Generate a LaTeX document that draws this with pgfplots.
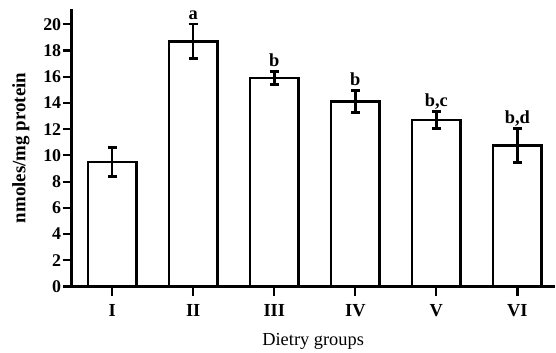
\documentclass[border=0pt]{standalone}
\usepackage{pgfplots}
\pgfplotsset{compat=1.18}
\usepackage{fontspec}
\setmainfont{Liberation Serif}
\begin{document}
\begin{tikzpicture}
\begin{axis}[
  scale only axis,
  width=486bp, height=279bp,
  xmin=-0.5, xmax=5.46,
  ymin=0, ymax=21.14,
  axis x line*=bottom, axis y line*=left,
  axis line style={line width=2.6bp, -},
  xtick={0,1,2,3,4,5},
  xticklabels={I,II,III,IV,V,VI},
  ytick={0,2,4,6,8,10,12,14,16,18,20},
  tick align=outside,
  major tick length=9bp,
  tick style={line width=2.2bp, black},
  ticklabel style={font=\fontsize{18bp}{20bp}\selectfont\bfseries},
  x tick label style={font=\fontsize{18.5bp}{20bp}\selectfont\bfseries, yshift=-5bp},
  y tick label style={xshift=2bp},
  /pgf/number format/assume math mode=true,
  xlabel={Dietry groups},
  xlabel style={font=\fontsize{18.5bp}{20bp}\selectfont, yshift=-10bp},
  ylabel={nmoles/mg protein},
  ylabel style={font=\fontsize{19bp}{21bp}\selectfont\bfseries, yshift=7bp},
  clip=false,
]
\addplot[ybar, bar width=0.6, fill=white, draw=black, line width=2.6bp,
  error bars/.cd, y dir=both, y explicit,
  error bar style={line width=2.6bp},
  error mark options={rotate=90, mark size=4.5bp, line width=2.6bp}]
  coordinates {
  (0,9.5) +- (0,1.1)
  (1,18.7) +- (0,1.3)
  (2,15.9) +- (0,0.5)
  (3,14.1) +- (0,0.85)
  (4,12.7) +- (0,0.65)
  (5,10.75) +- (0,1.3)
  };
\addplot[draw=none, mark=none, nodes near coords, point meta=explicit symbolic,
  nodes near coords style={anchor=south, text depth=0pt, inner sep=0pt, yshift=5bp,
    font=\fontsize{18.5bp}{20bp}\selectfont\bfseries}]
  coordinates {
  (1,20.0)[a]
  (2,16.4)[b]
  (3,14.95)[b]
  (4,13.35)[b,c]
  (5,12.05)[b,d]
  };
\end{axis}
\path (current bounding box.south west) ++(-9bp,0pt) (current bounding box.north east) ++(0pt,8bp);
\end{tikzpicture}
\end{document}
